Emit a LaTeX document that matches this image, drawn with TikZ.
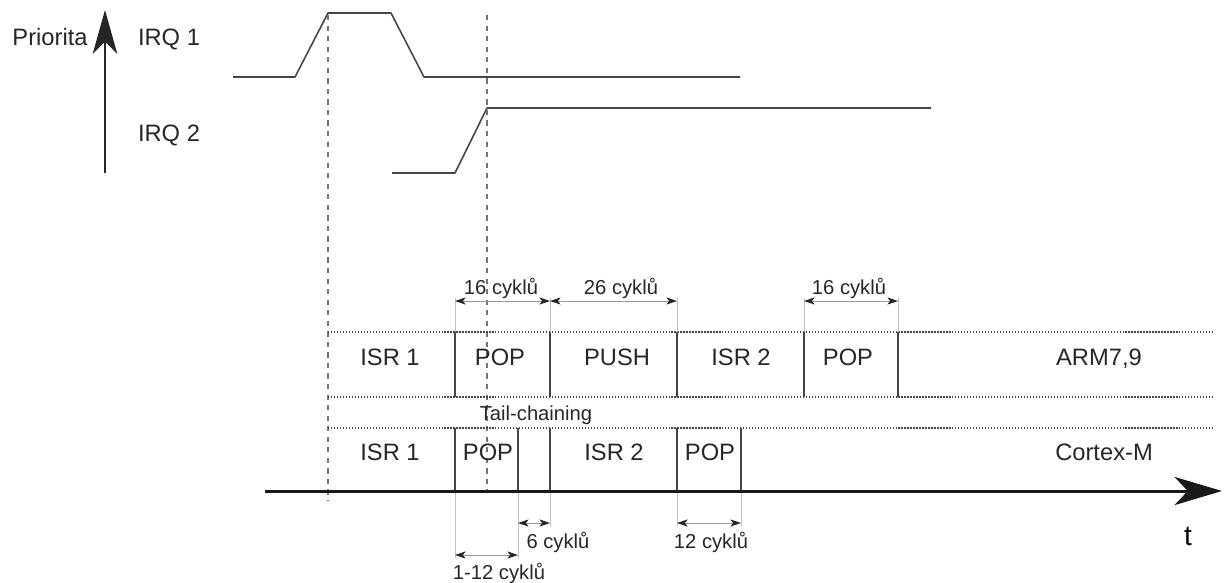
\documentclass[tikz,border=0pt]{standalone}
\usepackage{fontspec}
\setmainfont{Liberation Sans}
\usetikzlibrary{arrows.meta}
\definecolor{linegray}{HTML}{454545}
\begin{document}
\begin{tikzpicture}[x=0.02cm,y=-0.02cm,
    signal/.style={draw=linegray,line width=0.9pt,line join=round},
    guide/.style={draw=black!55,dashed,line width=0.6pt},
    rowline/.style={draw=linegray,densely dotted,line width=0.7pt},
    sep/.style={draw=linegray,line width=0.9pt},
    ext/.style={draw=black!25,line width=0.5pt},
    dim/.style={draw=black!40,line width=0.5pt,
        {Stealth[length=6pt,width=4pt,inset=1.5pt,black!85]}-{Stealth[length=6pt,width=4pt,inset=1.5pt,black!85]}},
    lbl/.style={anchor=base,inner sep=0pt,text=black!85,font=\fontsize{13.5}{16}\selectfont},
    small/.style={anchor=base,inner sep=0pt,text=black!85,font=\fontsize{11.5}{14}\selectfont}]
    \useasboundingbox (0,0) rectangle (1230,582);

    % priority axis and IRQ signals
    \node[lbl] (prio) at (50,45.7) {Priorita};
    \node[lbl] (irq1) at (169,45.7) {IRQ 1};
    \node[lbl] (irq2) at (169,141.7) {IRQ 2};
    \coordinate (pbot) at (105,173);
    \coordinate (ptop) at (105,10);
    \draw[line width=1.2pt,black!85,-{Stealth[length=25pt,width=14pt,inset=7pt]}] (pbot) -- (ptop);
    \draw[signal] (233,77) -- (295,77) -- (328,13) -- (391,13) -- (424,77) -- (740,77);
    \draw[signal] (392,173) -- (455,173) -- (487,108) -- (931,108);

    % time marks
    \foreach \n/\x in {a/455,b/518,c/550,d/677,e/741,f/804,g/898}
        \coordinate (m\n) at (\x,0);
    \coordinate (armtop) at (0,332);
    \coordinate (armbot) at (0,397);
    \coordinate (cmtop) at (0,428);
    \coordinate (ax) at (0,491);

    \draw[guide] (328,15) -- (328,500);
    \draw[guide] (487,15) -- (487,491);

    % rows
    \foreach \r in {armtop,armbot,cmtop}
        \draw[rowline] (328,0 |- \r) -- (1213,0 |- \r);
    \foreach \n in {a,c,d,f,g} {
        \draw[sep] (m\n |- armtop) -- (m\n |- armbot);
        \draw[ext] (m\n |- 0,298) -- (m\n |- armtop);
    }
    \foreach \n in {a,b,c,d,e}
        \draw[sep] (m\n |- cmtop) -- (m\n |- ax);
    \draw[ext] (ma |- ax) -- (ma |- 0,558);
    \draw[ext] (mb |- ax) -- (mb |- 0,558);
    \foreach \n in {c,d,e}
        \draw[ext] (m\n |- ax) -- (m\n |- 0,526);

    \node[lbl] (arm1) at (390,365) {ISR 1};
    \node[lbl] (arm2) at (500,365) {POP};
    \node[lbl] (arm3) at (617,365) {PUSH};
    \node[lbl] (arm4) at (741,365) {ISR 2};
    \node[lbl] (arm5) at (848,365) {POP};
    \node[lbl] (armname) at (1099,365) {ARM7,9};
    \node[small] (tail) at (536,420.5) {Tail-chaining};
    \node[lbl] (cm1) at (390,460) {ISR 1};
    \node[lbl] (cm2) at (488,460) {POP};
    \node[lbl] (cm3) at (614,460) {ISR 2};
    \node[lbl] (cm4) at (710,460) {POP};
    \node[lbl] (cmname) at (1104,460) {Cortex-M};

    % cycle counts
    \draw[dim] (ma |- 0,301) -- (mc |- 0,301);
    \draw[dim] (mc |- 0,301) -- (md |- 0,301);
    \draw[dim] (mf |- 0,301) -- (mg |- 0,301);
    \node[small] (c16a) at (501,294) {16 cyklů};
    \node[small] (c26) at (621,294) {26 cyklů};
    \node[small] (c16b) at (849,294) {16 cyklů};
    \draw[dim] (mb |- 0,523) -- (mc |- 0,523);
    \draw[dim] (md |- 0,523) -- (me |- 0,523);
    \draw[dim] (ma |- 0,555) -- (mb |- 0,555);
    \node[small] (c6) at (558,548) {6 cyklů};
    \node[small] (c12) at (711,548) {12 cyklů};
    \node[small] (c112) at (499,579) {1-12 cyklů};

    % time axis
    \coordinate (tstart) at (265,491);
    \coordinate (tend) at (1222,491);
    \draw[line width=1.7pt,black!90,-{Stealth[length=27pt,width=16pt,inset=7.5pt]}] (tstart) -- (tend);
    \node[anchor=base,inner sep=0pt,font=\fontsize{16}{18}\selectfont] (tlbl) at (1188,545) {t};
\end{tikzpicture}
\end{document}
